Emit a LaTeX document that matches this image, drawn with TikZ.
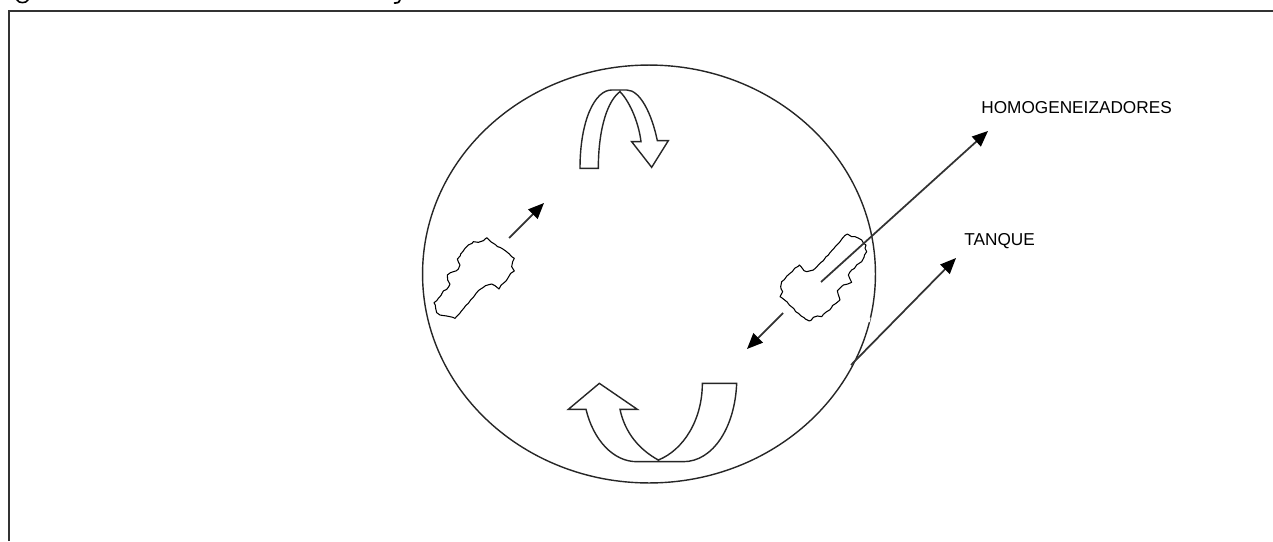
\documentclass[tikz,border=0pt]{standalone}
\usepackage{fontspec}
\setmainfont{Liberation Sans}
\usetikzlibrary{shapes.geometric,arrows.meta,positioning,decorations.pathmorphing}
\tikzset{
  line/.style={line width=0.8pt, black!85},
  pointer/.style={line width=1pt, black!80, -{Triangle[length=9pt,width=7.5pt,color=black]}},
  stirflow/.style={line, line join=miter, fill=white},
  stirrer/.style={line width=0.6pt, black, line join=round, decorate, decoration={random steps, segment length=2pt, amplitude=0.45pt}},
  label/.style={font=\fontsize{9.8}{11}\selectfont, inner sep=0pt, anchor=west},
}

\begin{document}
\begin{tikzpicture}[x=0.02cm,y=-0.02cm]
  \useasboundingbox (0,0) rectangle (1273,541);
  % frame
  \draw[line width=1.2pt, black!80] (9,541) -- (9,11) -- (1273,11);
  % cut off caption
  \draw[line width=0.9pt, line cap=round] (17,0) .. controls (19,3.5) and (26,3.5) .. (28,0);
  \draw[line width=1pt, line cap=round] (400,0) .. controls (400,2) and (398,3) .. (394.5,3);
  % tank
  \node[ellipse, draw, line, minimum width=9.06cm, minimum height=8.36cm, inner sep=0pt] (tank) at (649,274) {};
  \draw[white, line width=1.3pt] (869.5,317.5) -- (868.5,322);
  % top flow arrow
  \begin{scope}[shift={(540,70)},scale=0.33333]
    \draw[stirflow] (120,295) .. controls (120,150) and (165,60) .. (215,60) -- (260,60)
      .. controls (300,60) and (335,130) .. (352,212) -- (385,212) -- (335,292) -- (275,215) -- (303,215)
      .. controls (295,150) and (265,90) .. (240,65) .. controls (205,90) and (175,170) .. (175,295) -- cycle;
  \end{scope}
  % bottom flow arrow
  \begin{scope}[shift={(550,370)},scale=0.33333]
    \draw[stirflow] (457,40) -- (560,40) .. controls (555,170) and (490,275) .. (400,275) -- (260,275)
      .. controls (190,275) and (130,210) .. (108,118) -- (55,118) -- (148,40) -- (262,118) -- (210,118)
      .. controls (225,190) and (270,240) .. (325,270) .. controls (400,240) and (457,150) .. (457,40) -- cycle;
  \end{scope}
  % left stirrer
  \begin{scope}[shift={(420,190)},scale=0.33333]
    \draw[stirrer] (200,143) -- (212,155) -- (225,163) -- (240,172) -- (250,178) -- (268,192) -- (283,205)
      -- (278,215) -- (275,230) -- (283,243) -- (272,250) -- (265,262) -- (250,280) -- (237,297) -- (225,287)
      -- (215,282) -- (190,292) -- (175,302) -- (160,322) -- (145,340) -- (125,362) -- (105,385) -- (80,378)
      -- (60,375) -- (50,368) -- (47,355) -- (42,338) -- (55,325) -- (65,312) -- (90,283) -- (83,270) -- (82,255)
      -- (100,245) -- (115,237) -- (120,225) -- (112,207) -- (122,192) -- (135,175) -- (145,165) -- (160,155)
      -- (175,157) -- (190,152) -- cycle;
  \end{scope}
  % right stirrer
  \begin{scope}[shift={(730,220)},scale=0.33333]
    \draw[stirrer] (352,42) -- (365,50) -- (375,50) -- (395,60) -- (408,75) -- (405,85) -- (410,95) -- (402,112)
      -- (395,125) -- (380,135) -- (365,150) -- (355,165) -- (365,187) -- (340,195) -- (322,212) -- (330,240)
      -- (318,250) -- (305,262) -- (290,275) -- (275,290) -- (262,288) -- (250,292) -- (238,303) -- (222,293)
      -- (205,280) -- (178,255) -- (150,230) -- (158,215) -- (152,200) -- (155,185) -- (180,160) -- (208,135)
      -- (222,152) -- (230,155) -- (250,150) -- (265,135) -- (280,122) -- (295,105) -- (312,85) -- (330,65) -- cycle;
  \end{scope}
  % labels
  \node[label] (homog) at (981,108) {HOMOGENEIZADORES};
  \node[label] (tanque) at (964,241) {TANQUE};
  % pointers
  \coordinate (homogfrom) at (821,282);
  \coordinate (homogto) at (988,131);
  \coordinate (tanquefrom) at (851,365);
  \coordinate (tanqueto) at (956,258);
  \coordinate (leftfrom) at (509,238);
  \coordinate (leftto) at (544,203);
  \coordinate (rightfrom) at (783,313);
  \coordinate (rightto) at (747,349);
  \draw[pointer] (homogfrom) -- (homogto);
  \draw[pointer] (tanquefrom) -- (tanqueto);
  \draw[pointer] (leftfrom) -- (leftto);
  \draw[pointer] (rightfrom) -- (rightto);
\end{tikzpicture}
\end{document}
